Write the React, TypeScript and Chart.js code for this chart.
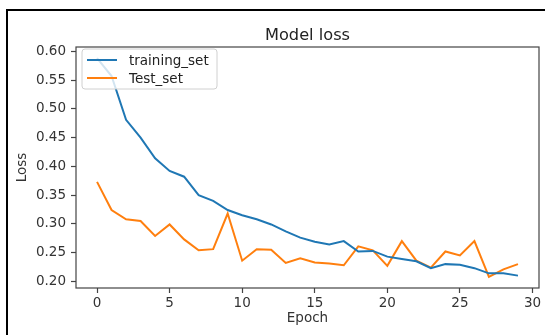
import React, { useEffect, useRef } from "react";
import { Chart, registerables } from "chart.js";

Chart.register(...registerables);

const epochs = Array.from({ length: 30 }, (_, i) => i);
const trainingLoss = [
  0.588, 0.557, 0.481, 0.45, 0.414, 0.392, 0.382, 0.35, 0.34, 0.324,
  0.315, 0.308, 0.299, 0.287, 0.276, 0.269, 0.264, 0.27, 0.252, 0.253,
  0.243, 0.239, 0.235, 0.223, 0.23, 0.229, 0.223, 0.214, 0.214, 0.21,
];
const testLoss = [
  0.373, 0.324, 0.308, 0.305, 0.279, 0.299, 0.273, 0.254, 0.256, 0.318,
  0.236, 0.256, 0.255, 0.232, 0.24, 0.233, 0.231, 0.228, 0.261, 0.254,
  0.227, 0.27, 0.236, 0.224, 0.252, 0.245, 0.27, 0.208, 0.221, 0.23,
];
const xTicks = [0, 5, 10, 15, 20, 25, 30];
const yTicks = [0.2, 0.25, 0.3, 0.35, 0.4, 0.45, 0.5, 0.55, 0.6];
const seriesNames = ["training_set", "Test_set"];
const seriesColors = ["#1f77b4", "#ff7f0e"];
const titleText = "Model loss";

const FONT = "'DejaVu Sans', sans-serif";

const decorPlugin = {
  id: "decor",
  beforeDraw(chart: any) {
    const ctx = chart.ctx;
    ctx.save();
    ctx.fillStyle = "#fff";
    ctx.fillRect(0, 0, chart.width, chart.height);
    // outer frame
    ctx.strokeStyle = "#000";
    ctx.lineWidth = 2;
    ctx.beginPath();
    ctx.moveTo(7, chart.height);
    ctx.lineTo(7, 10);
    ctx.lineTo(chart.width, 10);
    ctx.stroke();
    ctx.restore();
  },
  afterDraw(chart: any) {
    const ctx = chart.ctx;
    const a = chart.chartArea;
    ctx.save();
    // spines
    ctx.strokeStyle = "#444";
    ctx.lineWidth = 1.2;
    ctx.strokeRect(a.left, a.top, a.right - a.left, a.bottom - a.top);
    // title
    ctx.fillStyle = "#222";
    ctx.font = `16.2px ${FONT}`;
    ctx.textAlign = "center";
    ctx.textBaseline = "alphabetic";
    ctx.fillText(titleText, (a.left + a.right) / 2, 40);
    // legend
    const bx = a.left + 6, by = a.top + 2, bw = 135, bh = 40;
    ctx.fillStyle = "rgba(255,255,255,0.8)";
    ctx.strokeStyle = "#d0d0d0";
    ctx.lineWidth = 1;
    ctx.beginPath();
    ctx.roundRect(bx, by, bw, bh, 3);
    ctx.fill();
    ctx.stroke();
    ctx.font = `13.5px ${FONT}`;
    ctx.textAlign = "left";
    ctx.textBaseline = "middle";
    seriesNames.forEach((name, i) => {
      const y = by + 11 + i * 18;
      ctx.strokeStyle = seriesColors[i];
      ctx.lineWidth = 2;
      ctx.beginPath();
      ctx.moveTo(bx + 5, y);
      ctx.lineTo(bx + 35, y);
      ctx.stroke();
      ctx.fillStyle = "#222";
      ctx.fillText(name, bx + 47, y + 1);
    });
    ctx.restore();
  },
};

export default function App() {
  const ref = useRef<HTMLCanvasElement>(null);
  useEffect(() => {
    if (!ref.current) return;
    const chart = new Chart(ref.current, {
      type: "line",
      data: {
        datasets: [
          {
            label: seriesNames[0],
            data: epochs.map((e, i) => ({ x: e, y: trainingLoss[i] })),
            borderColor: seriesColors[0],
            borderWidth: 2,
            pointRadius: 0,
            tension: 0,
          },
          {
            label: seriesNames[1],
            data: epochs.map((e, i) => ({ x: e, y: testLoss[i] })),
            borderColor: seriesColors[1],
            borderWidth: 2,
            pointRadius: 0,
            tension: 0,
          },
        ],
      },
      options: {
        animation: false,
        responsive: false,
        layout: { padding: { left: 0, right: 6, top: 47, bottom: 0 } },
        plugins: { legend: { display: false }, tooltip: { enabled: false } },
        scales: {
          x: {
            type: "linear",
            min: -1.45,
            max: 30.45,
            afterBuildTicks: (s: any) => {
              s.ticks = xTicks.map((v) => ({ value: v }));
            },
            afterFit: (s: any) => {
              s.height = 47;
            },
            grid: {
              drawOnChartArea: false,
              drawTicks: true,
              tickLength: 5,
              color: "#444",
              tickWidth: 1.2,
            },
            border: { display: false },
            ticks: {
              color: "#333",
              font: { family: FONT, size: 13.5 },
              padding: 2,
              maxRotation: 0,
              callback: (v: any) => String(v),
            },
            title: {
              display: true,
              text: "Epoch",
              color: "#333",
              font: { family: FONT, size: 13.5 },
              padding: { top: 0, bottom: 8 },
            },
          },
          y: {
            type: "linear",
            min: 0.1885,
            max: 0.6075,
            afterBuildTicks: (s: any) => {
              s.ticks = yTicks.map((v) => ({ value: v }));
            },
            afterFit: (s: any) => {
              s.width = 76;
            },
            grid: {
              drawOnChartArea: false,
              drawTicks: true,
              tickLength: 5,
              color: "#444",
              tickWidth: 1.2,
            },
            border: { display: false },
            ticks: {
              color: "#333",
              font: { family: FONT, size: 13.5 },
              padding: 5,
              callback: (v: any) => Number(v).toFixed(2),
            },
            title: {
              display: true,
              text: "Loss",
              color: "#333",
              font: { family: FONT, size: 13.5 },
              padding: { top: 14, bottom: 0 },
            },
          },
        },
      },
      plugins: [decorPlugin],
    });
    return () => chart.destroy();
  }, []);
  return (
    <div style={{ position: "absolute", left: 0, top: 0, width: 545, height: 335, background: "#fff" }}>
      <canvas ref={ref} width={545} height={335} style={{ display: "block" }} />
    </div>
  );
}
